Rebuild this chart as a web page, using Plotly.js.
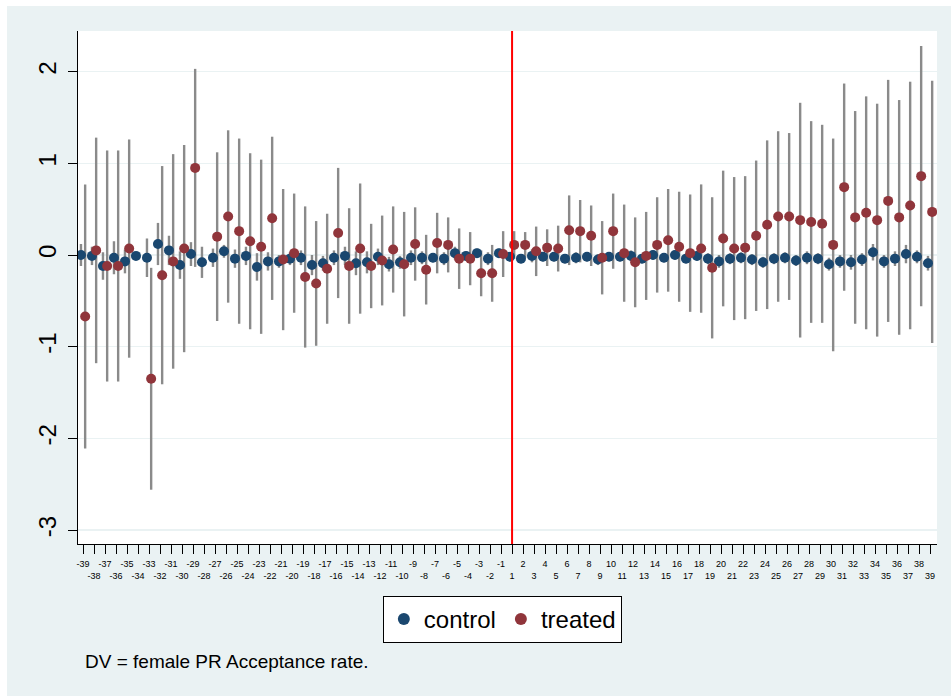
<!DOCTYPE html>
<html><head><meta charset="utf-8">
<script src="https://cdn.plot.ly/plotly-3.0.1.min.js"></script>
<style>html,body{margin:0;padding:0;background:#fff;} #chart{position:absolute;left:7px;top:6px;width:944px;height:690px;}</style>
</head><body><div id="chart"></div>
<script>
const periods = ['-39','-38','-37','-36','-35','-34','-33','-32','-31','-30','-29','-28','-27','-26','-25','-24','-23','-22','-21','-20',
  '-19','-18','-17','-16','-15','-14','-13','-12','-11','-10','-9','-8','-7','-6','-5','-4','-3','-2','-1',
  '1','2','3','4','5','6','7','8','9','10','11','12','13','14','15','16','17','18','19','20',
  '21','22','23','24','25','26','27','28','29','30','31','32','33','34','35','36','37','38','39'];

const control = [0.00,-0.01,-0.12,-0.03,-0.07,-0.01,-0.03,0.12,0.05,-0.11,0.01,-0.08,-0.03,0.04,-0.04,-0.01,-0.13,-0.07,-0.07,-0.04,
  -0.03,-0.11,-0.09,-0.03,-0.01,-0.09,-0.08,-0.02,-0.10,-0.08,-0.03,-0.03,-0.03,-0.04,0.02,-0.01,0.02,-0.04,0.02,
  -0.02,-0.04,-0.01,-0.02,-0.02,-0.04,-0.03,-0.02,-0.05,-0.02,-0.02,-0.01,-0.04,0.00,-0.03,0.00,-0.04,-0.01,-0.04,-0.07,
  -0.04,-0.03,-0.05,-0.08,-0.04,-0.03,-0.06,-0.03,-0.04,-0.10,-0.07,-0.08,-0.05,0.03,-0.07,-0.04,0.01,-0.02,-0.09];

const controlCI = [0.12,0.10,0.15,0.18,0.13,0.04,0.21,0.23,0.16,0.15,0.13,0.17,0.10,0.07,0.10,0.10,0.15,0.10,0.07,0.07,
  0.08,0.11,0.08,0.08,0.10,0.13,0.12,0.09,0.08,0.07,0.08,0.07,0.05,0.07,0.07,0.05,0.05,0.07,0.05,
  0.05,0.05,0.07,0.05,0.05,0.05,0.06,0.05,0.06,0.05,0.05,0.06,0.05,0.05,0.05,0.05,0.05,0.05,0.06,0.07,
  0.06,0.06,0.06,0.06,0.06,0.06,0.06,0.07,0.06,0.07,0.07,0.08,0.07,0.09,0.07,0.08,0.10,0.07,0.08];

const treated = [-0.67,0.05,-0.12,-0.12,0.07,null,-1.35,-0.22,-0.07,0.07,0.95,null,0.20,0.42,0.26,0.15,0.09,0.40,-0.05,0.02,
  -0.24,-0.31,-0.15,0.24,-0.12,0.07,-0.12,-0.06,0.06,-0.10,0.12,-0.16,0.13,0.11,-0.04,-0.04,-0.20,-0.20,0.01,
  0.11,0.11,0.04,0.08,0.07,0.27,0.26,0.21,-0.03,0.26,0.02,-0.08,-0.01,0.11,0.16,0.09,0.02,0.07,-0.14,0.18,
  0.07,0.08,0.21,0.33,0.42,0.42,0.38,0.36,0.34,0.11,0.74,0.41,0.46,0.38,0.59,0.41,0.54,0.86,0.47];

const treatedCI = [1.44,1.23,1.26,1.26,1.19,null,1.21,1.19,1.17,1.13,1.08,null,0.92,0.94,1.01,0.96,0.95,0.89,0.77,0.65,
  0.77,0.68,0.60,0.71,0.63,0.71,0.46,0.49,0.47,0.57,0.40,0.38,0.33,0.30,0.33,0.29,0.25,0.31,0.25,
  0.15,0.14,0.27,0.20,0.25,0.38,0.34,0.33,0.40,0.41,0.53,0.49,0.48,0.52,0.56,0.60,0.64,0.70,0.77,0.74,
  0.78,0.78,0.82,0.92,0.93,0.91,1.28,1.10,1.08,1.16,1.13,1.16,1.27,1.27,1.32,1.28,1.35,1.42,1.43];

const seriesNames = ['control','treated'];
const yTicks = [-3,-2,-1,0,1,2];
const treatStart = '1';
const noteText = 'DV = female PR Acceptance rate.';

const idx = periods.map((p,i)=>i);
const off = 0.19;
const xc = idx.map(i=>i-off), xt = idx.map(i=>i+off);
const tickText = periods.map((p,i)=> i%2===0 ? p : '<br>'+p);

const FONT = 'Liberation Sans, Arial, sans-serif';
const BLUE = '#1a476f', RED = '#90353b', GRAY = '#8a8a8a';

const ciStyle = (arr)=>({type:'data', array:arr, symmetric:true, visible:true, color:GRAY, thickness:2.4, width:0});

const traces = [
  {x:xc, y:control, mode:'markers', marker:{size:8, opacity:0, color:BLUE}, error_y:ciStyle(controlCI), showlegend:false, hoverinfo:'skip'},
  {x:xt, y:treated, mode:'markers', marker:{size:8, opacity:0, color:RED}, error_y:ciStyle(treatedCI), showlegend:false, hoverinfo:'skip'},
  {x:xc, y:control, name:seriesNames[0], mode:'markers', marker:{size:10, color:BLUE}},
  {x:xt, y:treated, name:seriesNames[1], mode:'markers', marker:{size:10, color:RED}}
];

const layout = {
  width:944, height:690,
  margin:{l:71, r:14, t:25, b:152},
  paper_bgcolor:'#eaf2f3', plot_bgcolor:'#ffffff',
  font:{family:FONT, color:'#000'},
  showlegend:true,
  legend:{orientation:'h', x:0.494, xanchor:'center', y:-0.101, yanchor:'top', tracegroupgap:0,
    bgcolor:'#ffffff', bordercolor:'#000000', borderwidth:1, font:{size:24, family:FONT}, itemsizing:'constant'},
  xaxis:{range:[-0.46,77.63], tickmode:'array', tickvals:idx, ticktext:tickText, tickangle:0,
    tickfont:{size:9, family:FONT}, ticks:'outside', ticklen:9, tickcolor:'#000', tickwidth:1, ticklabelstandoff:2,
    showline:true, linecolor:'#000', linewidth:1, showgrid:false, zeroline:false, fixedrange:true},
  yaxis:{range:[-3.152,2.443], tickmode:'array', tickvals:yTicks, ticktext:yTicks.map(String), tickangle:-90,
    tickfont:{size:24, family:FONT}, ticks:'outside', ticklen:9, tickcolor:'#000', tickwidth:1, ticklabelstandoff:2,
    showline:true, linecolor:'#000', linewidth:1, showgrid:true, gridcolor:'#eaf2f3', gridwidth:1.5,
    zeroline:false, fixedrange:true},
  shapes:[{type:'line', xref:'x', yref:'paper', x0:periods.indexOf(treatStart), x1:periods.indexOf(treatStart), y0:0, y1:1,
    line:{color:'#ff0000', width:2}}],
  annotations:[{text:noteText, xref:'paper', yref:'paper', x:0.006, y:-0.229, xanchor:'left', yanchor:'middle',
    showarrow:false, font:{size:19, family:FONT, color:'#000'}}]
};

Plotly.newPlot('chart', traces, layout, {displayModeBar:false, staticPlot:true});
</script></body></html>
